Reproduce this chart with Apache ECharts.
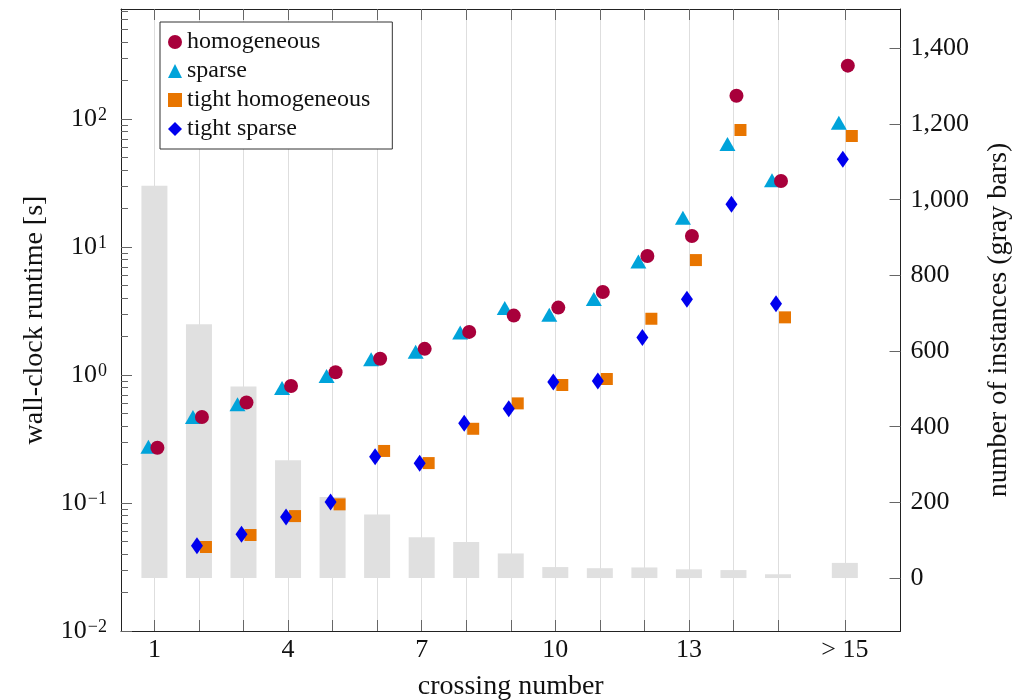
<!DOCTYPE html>
<html><head><meta charset="utf-8">
<script src="https://cdn.jsdelivr.net/npm/echarts@6/dist/echarts.min.js"></script>
<style>html,body{margin:0;padding:0;background:#fff}#c{width:1015px;height:700px}</style>
</head><body><div id="c"></div>
<script>
// ---- data ----
const crossing = [1, 2, 3, 4, 5, 6, 7, 8, 9, 10, 11, 12, 13, 14, 15, 16.5];
const xTickValues = [1, 4, 7, 10, 13, 16.5];
const xTickLabels = ['1', '4', '7', '10', '13', '> 15'];
const instances = [1037, 671, 506, 311, 214, 168, 108, 95, 65, 29, 26, 28, 23, 21, 10, 40];
const homogeneous = [0.27, 0.47, 0.61, 0.82, 1.05, 1.34, 1.60, 2.17, 2.91, 3.36, 4.45, 8.5, 12.2, 152, 32.8, 261];
const sparse = [0.275, 0.47, 0.59, 0.79, 0.98, 1.33, 1.52, 2.15, 3.34, 2.96, 3.93, 7.7, 16.9, 63.8, 33.2, 93.6];
const tightHomogeneous = [null, 0.0453, 0.0562, 0.079, 0.0976, 0.255, 0.205, 0.38, 0.60, 0.835, 0.93, 2.75, 7.9, 82, 2.82, 73.6];
const tightSparse = [null, 0.0464, 0.0569, 0.0778, 0.102, 0.230, 0.204, 0.42, 0.545, 0.882, 0.898, 1.96, 3.9, 21.6, 3.6, 48.4];
const leftMajorTicks = [0.01, 0.1, 1, 10, 100];
const rightTicks = [0, 200, 400, 600, 800, 1000, 1200, 1400];

// ---- build ----
const FONT = "'Liberation Serif', 'DejaVu Serif', serif";
const pairs = (vals) => crossing.map((x, i) => [x, vals[i]]).filter(p => p[1] != null);
const leftMinorTicks = [];
leftMajorTicks.forEach(d => { for (let m = 2; m <= 9; m++) leftMinorTicks.push(+(m * d).toPrecision(3)); });

const chart = echarts.init(document.getElementById('c'), null, {renderer: 'canvas'});
const tickStyle = {color: '#666', width: 1};
chart.setOption({
  animation: false,
  backgroundColor: '#fff',
  grid: {left: 121, right: 114.5, top: 9, bottom: 69, containLabel: false, outerBoundsMode: 'none'},
  legend: {
    orient: 'vertical', left: 160, top: 22,
    data: ['homogeneous', 'sparse', 'tight homogeneous', 'tight sparse'],
    itemWidth: 14, itemHeight: 14, itemGap: 5,
    padding: [8, 22, 8, 8],
    borderColor: '#333', borderWidth: 1, backgroundColor: '#fff',
    textStyle: {fontFamily: FONT, fontSize: 24, color: '#111', lineHeight: 24, padding: [0, 0, 0, 0]},
    selectedMode: false
  },
  xAxis: [{
    type: 'value', min: 0.25, max: 17.75, position: 'bottom',
    name: 'crossing number', nameLocation: 'middle', nameGap: 42,
    nameTextStyle: {fontFamily: FONT, fontSize: 28, color: '#111'},
    axisLine: {show: true, onZero: false, lineStyle: {color: '#222', width: 1}},
    axisTick: {show: true, inside: true, length: 11, lineStyle: tickStyle, customValues: crossing},
    axisLabel: {
      customValues: xTickValues, margin: 6,
      fontFamily: FONT, fontSize: 26, color: '#111',
      formatter: v => xTickLabels[xTickValues.indexOf(v)]
    },
    splitLine: {show: true, lineStyle: {color: '#dedede', width: 1}}
  }, {
    type: 'value', min: 0.25, max: 17.75, position: 'top',
    axisLine: {show: true, onZero: false, lineStyle: {color: '#222', width: 1}},
    axisTick: {show: true, inside: true, length: 11, lineStyle: tickStyle, customValues: crossing},
    axisLabel: {show: false},
    splitLine: {show: false}
  }],
  yAxis: [{
    type: 'log', logBase: 10, min: 0.01, max: 723, position: 'left',
    name: 'wall-clock runtime [s]', nameLocation: 'middle', nameGap: 72,
    nameTextStyle: {fontFamily: FONT, fontSize: 28, color: '#111'},
    axisLine: {show: true, onZero: false, lineStyle: {color: '#222', width: 1}},
    axisTick: {show: true, inside: true, length: 11, lineStyle: tickStyle, customValues: leftMajorTicks},
    axisLabel: {
      customValues: leftMajorTicks, margin: 14, color: '#111',
      formatter: v => {
        const e = Math.round(Math.log10(v));
        return '{b|10}{s|' + (e < 0 ? '\u2212' + (-e) : String(e)) + '}';
      },
      rich: {
        b: {fontFamily: FONT, fontSize: 26, color: '#111', lineHeight: 26, verticalAlign: 'bottom'},
        s: {fontFamily: FONT, fontSize: 18, color: '#111', lineHeight: 14, verticalAlign: 'top', padding: [0, 0, 0, 1]}
      }
    },
    splitLine: {show: false}
  }, {
    type: 'value', min: -140, max: 1504, position: 'right',
    name: 'number of instances (gray bars)', nameLocation: 'middle', nameGap: 84,
    nameTextStyle: {fontFamily: FONT, fontSize: 28, color: '#111'},
    axisLine: {show: true, onZero: false, lineStyle: {color: '#222', width: 1}},
    axisTick: {show: true, inside: true, length: 11, lineStyle: tickStyle, customValues: rightTicks},
    axisLabel: {
      customValues: rightTicks, margin: 10,
      fontFamily: FONT, fontSize: 26, color: '#111',
      formatter: v => v.toLocaleString('en-US')
    },
    splitLine: {show: false}
  }, {
    type: 'log', logBase: 10, min: 0.01, max: 723, position: 'left',
    axisLine: {show: true, onZero: false, lineStyle: {color: 'rgba(0,0,0,0)'}},
    axisTick: {show: true, inside: true, length: 7, lineStyle: tickStyle, customValues: leftMinorTicks},
    axisLabel: {show: false},
    splitLine: {show: false}
  }],
  series: [{
    name: 'instances', type: 'bar', xAxisIndex: 0, yAxisIndex: 1,
    data: pairs(instances), barWidth: 26, z: 1,
    itemStyle: {color: '#e0e0e0'}, silent: true
  }, {
    name: 'sparse', type: 'scatter', xAxisIndex: 0, yAxisIndex: 0,
    data: pairs(sparse), symbol: 'triangle', symbolSize: [16, 14], symbolOffset: [-6, 0], z: 3,
    itemStyle: {color: '#00a3da', opacity: 1}
  }, {
    name: 'homogeneous', type: 'scatter', xAxisIndex: 0, yAxisIndex: 0,
    data: pairs(homogeneous), symbol: 'circle', symbolSize: 14, symbolOffset: [3, 0], z: 4,
    itemStyle: {color: '#a8003b', opacity: 1}
  }, {
    name: 'tight homogeneous', type: 'scatter', xAxisIndex: 0, yAxisIndex: 0,
    data: pairs(tightHomogeneous), symbol: 'rect', symbolSize: 12, symbolOffset: [7, 0], z: 5,
    itemStyle: {color: '#e87500', opacity: 1}
  }, {
    name: 'tight sparse', type: 'scatter', xAxisIndex: 0, yAxisIndex: 0,
    data: pairs(tightSparse), symbol: 'diamond', symbolSize: [12, 17], symbolOffset: [-2, 0], z: 6,
    itemStyle: {color: '#0000ee', opacity: 1}
  }]
});
</script></body></html>
